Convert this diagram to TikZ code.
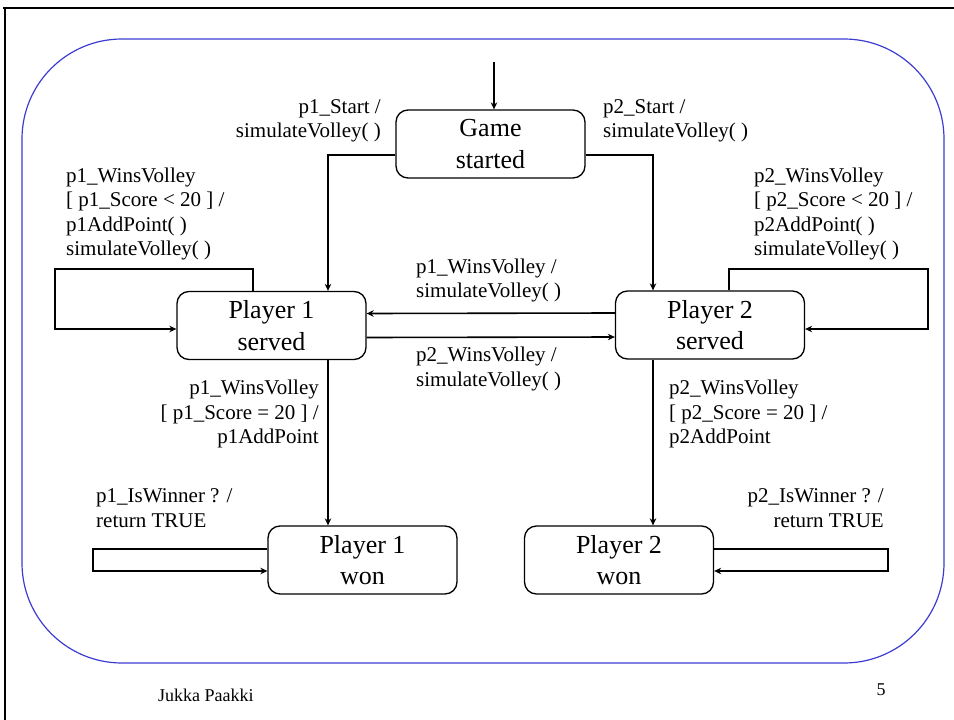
\documentclass[tikz,border=0pt]{standalone}
\usepackage{fontspec}
\setmainfont{Liberation Serif}
\usetikzlibrary{arrows.meta}
\definecolor{framblue}{RGB}{60,60,210}
\begin{document}
\begin{tikzpicture}[x=1pt,y=-1pt,
  statebox/.style={draw,line width=1.3pt,rounded corners=12pt,minimum width=189pt,minimum height=68pt,
    align=center,inner sep=0pt,font=\fontsize{26}{31.5}\selectfont},
  lbl/.style={inner sep=0pt,font=\fontsize{21}{24.3}\selectfont},
  conn/.style={line width=1.6pt,-{Stealth[length=7pt,width=6.5pt]}},
  foot/.style={inner sep=0pt,font=\fontsize{18}{20}\selectfont}]
\useasboundingbox (0,0) rectangle (954,720);
% slide frame
\draw[line width=2.6pt] (3,8) -- (954,8);
\draw[line width=2.6pt] (5,7) -- (5,720);
% outer blue rounded rectangle
\draw[framblue,line width=1.2pt,rounded corners=100pt] (22,39) rectangle (944,663);
% states
\node[statebox] (gs) at (490.5,144) {Game\\started};
\node[statebox] (p1s) at (271.5,325.5) {Player 1\\served};
\node[statebox] (p2s) at (710,325) {Player 2\\served};
\node[statebox] (p1w) at (362.5,560) {Player 1\\won};
\node[statebox] (p2w) at (619,560) {Player 2\\won};
% helper coordinates
\coordinate (init) at (494,62);
\coordinate (l1a) at (55,269);
\coordinate (l2a) at (928,269);
\coordinate (w1) at (93,549);
\coordinate (w2) at (888,549);
% connectors
\draw[conn] (init) -- (init |- gs.north);
\draw[conn] ([yshift=-11pt]gs.west) -| ([xshift=56.5pt]p1s.north);
\draw[conn] ([yshift=-11pt]gs.east) -| ([xshift=-57pt]p2s.north);
\draw[conn] ([yshift=12pt]p2s.west) -- ([yshift=12pt]p1s.east);
\draw[conn] ([yshift=-12pt]p1s.east) -- ([yshift=-12pt]p2s.west);
\draw[conn] ([xshift=-18.5pt]p1s.north) |- (l1a) |- ([yshift=-3.5pt]p1s.west);
\draw[conn] ([xshift=19pt]p2s.north) |- (l2a) |- ([yshift=-4pt]p2s.east);
\draw[conn] ([xshift=56.5pt]p1s.south) -- ([xshift=56.5pt]p1s.south |- p1w.north);
\draw[conn] ([xshift=-57pt]p2s.south) -- ([xshift=-57pt]p2s.south |- p2w.north);
\draw[conn] ([yshift=11pt]p1w.west) -- (w1) |- ([yshift=-11pt]p1w.west);
\draw[conn] ([yshift=11pt]p2w.east) -- (w2) |- ([yshift=-11pt]p2w.east);
% labels
\node[lbl,align=right,anchor=north east] (t1) at (381,99) {p1\_Start /\\simulateVolley( )};
\node[lbl,align=left,anchor=north west] (t2) at (603,99) {p2\_Start /\\simulateVolley( )};
\node[lbl,align=left,anchor=north west] (t3) at (66,167.7) {p1\_WinsVolley\\{}[ p1\_Score < 20 ] /\\p1AddPoint( )\\simulateVolley( )};
\node[lbl,align=left,anchor=north west] (t4) at (754,167.7) {p2\_WinsVolley\\{}[ p2\_Score < 20 ] /\\p2AddPoint( )\\simulateVolley( )};
\node[lbl,align=left,anchor=north west] (t5) at (416,258.7) {p1\_WinsVolley /\\simulateVolley( )};
\node[lbl,align=left,anchor=north west] (t6) at (416,347) {p2\_WinsVolley /\\simulateVolley( )};
\node[lbl,align=right,anchor=north east] (t7) at (319,380) {p1\_WinsVolley\\{}[ p1\_Score = 20 ] /\\p1AddPoint};
\node[lbl,align=left,anchor=north west] (t8) at (669,380) {p2\_WinsVolley\\{}[ p2\_Score = 20 ] /\\p2AddPoint};
\node[lbl,align=left,anchor=north west] (t9) at (96,488.7) {p1\_IsWinner ? /\\return TRUE};
\node[lbl,align=right,anchor=north east] (t10) at (884,488.7) {p2\_IsWinner ? /\\return TRUE};
% footer
\node[foot,anchor=base west] (author) at (158,701) {Jukka Paakki};
\node[foot,anchor=base] (page) at (881,695) {5};
\end{tikzpicture}
\end{document}
